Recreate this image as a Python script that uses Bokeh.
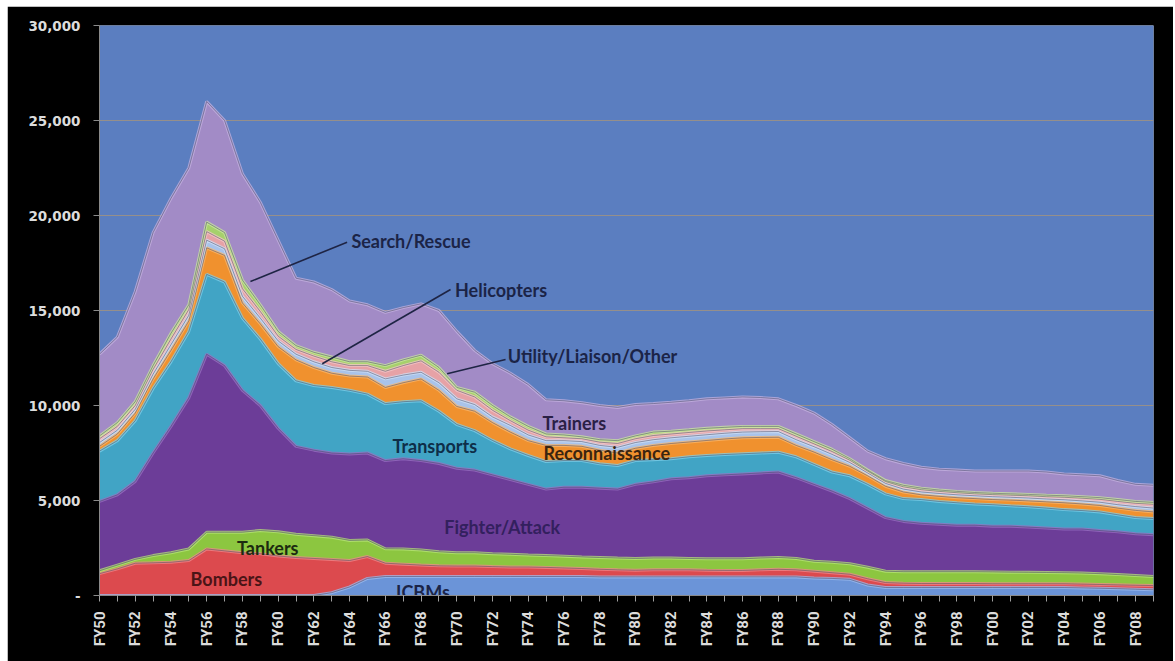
from bokeh.plotting import figure
from bokeh.models import ColumnDataSource, Range1d, FixedTicker, NumeralTickFormatter, Spacer
from bokeh.layouts import column, row
from bokeh.embed import file_html
from bokeh.resources import INLINE
from bokeh.core.properties import value
from math import pi

# ---------------- data (aircraft / missiles in inventory) ----------------
years = list(range(1950, 2010))
tick_labels = ["FY%02d" % (y % 100) if y % 2 == 0 else "" for y in years]

icbms = [0, 0, 0, 0, 0, 0, 0, 0, 0, 0,
         0, 0, 0, 150, 450, 900, 1000, 1000, 1000, 1000,
         1000, 1000, 1000, 1000, 1000, 1000, 1000, 1000, 980, 980,
         980, 980, 980, 980, 980, 980, 980, 980, 980, 980,
         920, 900, 850, 550, 420, 420, 420, 420, 420, 420,
         420, 420, 420, 420, 420, 400, 380, 360, 330, 300]
bombers = [1150, 1400, 1700, 1720, 1750, 1840, 2450, 2350, 2250, 2200,
           2080, 2000, 1950, 1750, 1390, 1150, 700, 650, 600, 560,
           550, 550, 520, 500, 500, 480, 450, 420, 400, 370,
           350, 370, 370, 370, 350, 340, 340, 370, 400, 370,
           360, 300, 270, 330, 260, 230, 210, 210, 210, 210,
           200, 200, 200, 200, 200, 200, 200, 200, 210, 220]
tankers = [150, 200, 200, 380, 500, 610, 880, 980, 1080, 1220,
           1270, 1220, 1200, 1170, 1060, 870, 760, 800, 800, 740,
           700, 700, 680, 670, 630, 620, 620, 610, 620, 620,
           620, 620, 620, 600, 600, 610, 610, 620, 620, 600,
           520, 550, 550, 610, 600, 600, 620, 620, 620, 620,
           620, 610, 600, 590, 580, 580, 570, 540, 510, 480]
fighter_attack = [3650, 3700, 4100, 5400, 6650, 7950, 9370, 8770, 7470, 6580,
                  5450, 4630, 4500, 4430, 4550, 4580, 4640, 4750, 4700, 4650,
                  4450, 4350, 4150, 3930, 3720, 3500, 3630, 3670, 3650, 3630,
                  3900, 4010, 4170, 4250, 4370, 4420, 4470, 4480, 4500, 4250,
                  4050, 3750, 3430, 3110, 2820, 2650, 2550, 2500, 2450, 2450,
                  2410, 2420, 2380, 2340, 2300, 2320, 2270, 2250, 2200, 2200]
transports = [2650, 2850, 3200, 3400, 3400, 3500, 4200, 4400, 3800, 3500,
              3400, 3450, 3400, 3450, 3350, 3100, 3000, 3000, 3150, 2750,
              2300, 2080, 1810, 1620, 1520, 1450, 1400, 1400, 1280, 1240,
              1250, 1170, 1060, 1100, 1070, 1070, 1060, 1050, 1040, 1100,
              1050, 1000, 1200, 1250, 1250, 1200, 1250, 1200, 1180, 1120,
              1130, 1070, 1070, 1050, 1020, 970, 980, 900, 850, 850]
reconnaissance = [250, 350, 400, 500, 600, 550, 1400, 1400, 800, 800,
                  900, 1100, 950, 750, 750, 900, 850, 1000, 1150, 1100,
                  950, 1020, 940, 880, 780, 850, 800, 750, 720, 660,
                  650, 750, 800, 780, 790, 820, 840, 820, 790, 600,
                  650, 650, 500, 450, 400, 350, 250, 270, 270, 280,
                  270, 300, 310, 330, 360, 350, 340, 350, 380, 350]
helicopters = [200, 200, 200, 250, 300, 300, 400, 350, 350, 300,
               300, 300, 300, 300, 300, 300, 450, 400, 350, 400,
               400, 350, 300, 350, 300, 250, 250, 250, 250, 300,
               300, 300, 300, 300, 300, 300, 300, 300, 300, 300,
               280, 280, 200, 150, 150, 150, 150, 150, 150, 150,
               150, 150, 150, 150, 160, 160, 170, 180, 200, 200]
utility = [200, 200, 200, 250, 300, 300, 450, 400, 400, 350,
           250, 250, 300, 300, 250, 300, 400, 500, 600, 550,
           450, 400, 350, 250, 250, 200, 150, 150, 170, 200,
           200, 220, 200, 200, 200, 180, 180, 160, 150, 180,
           150, 150, 120, 100, 100, 120, 120, 110, 110, 100,
           110, 110, 120, 120, 130, 140, 150, 170, 170, 200]
search_rescue = [150, 200, 200, 200, 300, 250, 500, 450, 450, 350,
                 250, 200, 200, 250, 200, 200, 300, 300, 300, 250,
                 150, 250, 250, 200, 200, 150, 150, 100, 130, 150,
                 150, 180, 150, 140, 140, 130, 120, 120, 120, 120,
                 120, 120, 80, 50, 50, 80, 80, 70, 70, 70,
                 70, 70, 70, 80, 80, 80, 90, 100, 100, 100]
trainers = [4300, 4500, 5800, 7000, 7100, 7200, 6350, 5900, 5600, 5400,
            4800, 3550, 3700, 3550, 3200, 3000, 2800, 2750, 2700, 3000,
            2950, 2200, 2200, 2300, 2200, 1800, 1800, 1800, 1800, 1750,
            1650, 1500, 1520, 1530, 1550, 1550, 1550, 1520, 1450, 1500,
            1500, 1300, 1100, 1000, 1150, 1150, 1100, 1100, 1120, 1130,
            1170, 1200, 1230, 1220, 1150, 1150, 1150, 1000, 900, 900]

y_ticks = [0, 5000, 10000, 15000, 20000, 25000, 30000]

# ---------------- styling ----------------
keys = ["icbms", "bombers", "tankers", "fighter", "transports", "recon",
        "heli", "utility", "sar", "trainers"]
fills = ["#6b94d8", "#dc4a4e", "#8cc640", "#6c3d98", "#41a4c5", "#f0912e",
         "#a9c3ea", "#e6a2a6", "#a6d06c", "#a28bc6"]
tints = ["#9dbcef", "#f08a8c", "#b8e47a", "#9a70c4", "#7fd0ea", "#f8b870",
         "#cfe0f6", "#f4c8ca", "#cbe8a0", "#c4b2e0"]

source = ColumnDataSource(dict(year=years, icbms=icbms, bombers=bombers, tankers=tankers,
                               fighter=fighter_attack, transports=transports,
                               recon=reconnaissance, heli=helicopters, utility=utility,
                               sar=search_rescue, trainers=trainers))

p = figure(width=1166, height=655, output_backend="svg", toolbar_location=None,
           x_range=Range1d(1950, 2009), y_range=Range1d(0, 30000),
           min_border_left=92, min_border_right=20, min_border_top=19, min_border_bottom=66)
p.background_fill_color = "#5b7ec0"
p.border_fill_color = "black"
p.outline_line_color = None

p.xgrid.visible = False
p.ygrid.ticker = FixedTicker(ticks=y_ticks)
p.ygrid.grid_line_color = "#a8957a"
p.ygrid.grid_line_alpha = 0.75
p.ygrid.grid_line_width = 1

p.varea_stack(stackers=keys, x="year", color=fills, source=source)
p.vline_stack(stackers=keys, x="year", color=tints, line_width=3, line_alpha=0.75, source=source)
p.vline_stack(stackers=keys, x="year", color="#3a3a52", line_width=0.8, line_alpha=0.55, source=source)

# ---------------- annotations ----------------
lead_color = "#1e2444"
p.line(x=[1963.86, 1958.45], y=[18595, 16526], line_color=lead_color, line_width=1.6)
p.line(x=[1969.65, 1962.47], y=[16105, 12195], line_color=lead_color, line_width=1.6)
p.line(x=[1972.73, 1969.46], y=[12421, 11668], line_color=lead_color, line_width=1.6)

lab_text = ["Search/Rescue", "Helicopters", "Utility/Liaison/Other", "Trainers",
            "Reconnaissance", "Transports", "Fighter/Attack", "Tankers", "Bombers", "ICBMs"]
lab_x = [1964.1, 1969.9, 1972.85, 1974.8, 1974.85, 1966.4, 1969.3, 1957.7, 1955.1, 1966.6]
lab_y = [18680, 16100, 12630, 9100, 7520, 7890, 3630, 2520, 890, 210]
lab_color = ["#1b2447", "#1b2447", "#1b2447", "#2a2045", "#3a2410", "#0e2e48",
             "#33205e", "#1c2a10", "#4a1416", "#1b2447"]
labels = ColumnDataSource(dict(x=lab_x, y=lab_y, text=lab_text, color=lab_color))
p.text(x="x", y="y", text="text", source=labels, text_color="color",
       text_font=value("Lato"), text_font_style="bold", text_font_size="18px",
       text_align="left", text_baseline="middle")

# ---------------- axes ----------------
ya = p.yaxis[0]
ya.ticker = FixedTicker(ticks=y_ticks)
ya.formatter = NumeralTickFormatter(format="0,0")
ya.major_label_overrides = {0: "-"}
ya.minor_tick_line_color = None
ya.major_tick_in = 0
ya.major_tick_out = 6
ya.major_tick_line_color = "#8a8a8a"
ya.axis_line_color = "#8a8a8a"
ya.major_label_text_color = "#dcdcdc"
ya.major_label_text_font = "DejaVu Sans"
ya.major_label_text_font_style = "bold"
ya.major_label_text_font_size = "13.5px"
ya.major_label_standoff = 13

xa = p.xaxis[0]
xa.ticker = FixedTicker(ticks=years)
xa.major_label_overrides = {y: t for y, t in zip(years, tick_labels)}
xa.minor_tick_line_color = None
xa.major_tick_in = 0
xa.major_tick_out = 6
xa.major_tick_line_color = "#a0a0a0"
xa.axis_line_color = "#8a8a8a"
xa.major_label_orientation = pi / 2
xa.major_label_text_color = "#dcdcdc"
xa.major_label_text_font = "Roboto"
xa.major_label_text_font_style = "bold"
xa.major_label_text_font_size = "15px"
xa.major_label_standoff = 10

layout = column(Spacer(width=1175, height=6),
                row(Spacer(width=7, height=655), p))

open("out.html", "w").write(file_html(layout, INLINE))
